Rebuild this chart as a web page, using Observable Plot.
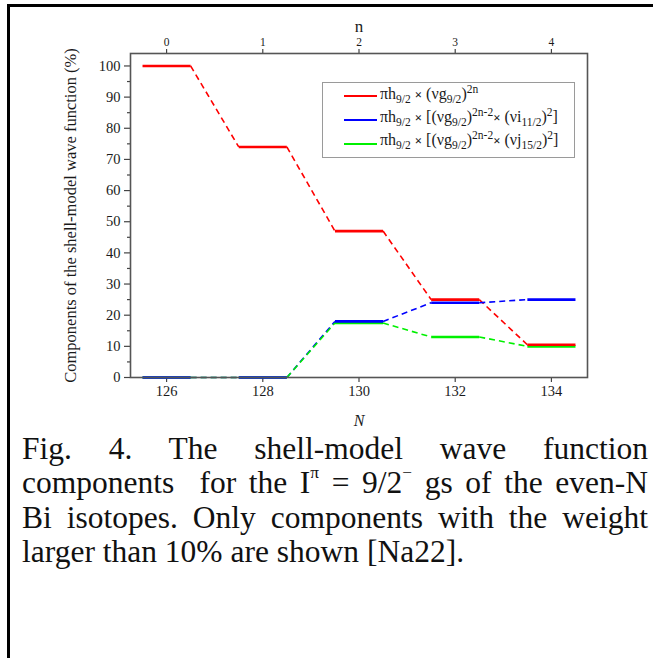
<!DOCTYPE html>
<html>
<head>
<meta charset="utf-8">
<script src="https://cdn.jsdelivr.net/npm/d3@7"></script>
<script src="https://cdn.jsdelivr.net/npm/@observablehq/plot@0.6"></script>
<style>
  html, body { margin: 0; padding: 0; background: #fff; }
  #wrap { position: relative; width: 653px; height: 658px; overflow: hidden; font-family: "Liberation Serif", "Times New Roman", serif; }
  #border { position: absolute; left: 7px; top: 4px; width: 660px; height: 700px; border-top: 3px solid #000; border-left: 3px solid #000; }
  #chart { position: absolute; left: 0; top: 0; }
  #chart svg, #chart svg text { font-family: "Liberation Serif", "Times New Roman", serif !important; }
  #legend { position: absolute; left: 322px; top: 82px; width: 253px; height: 76px; border: 1px solid #9a9a9a; box-sizing: border-box; background: #fff; }
  .lg-line { position: absolute; left: 344px; width: 33px; height: 2px; }
  .lg-text { position: absolute; left: 380px; font-family: "Liberation Serif", serif; font-size: 16px; line-height: 20px; color: #1a1a1a; white-space: nowrap; }
  .lg-text sub, .lg-text sup { font-size: 0.72em; line-height: 0; }
  .lg-text sub { vertical-align: -0.35em; }
  .lg-text sup { vertical-align: 0.55em; }
  .x { font-size: 0.8em; font-weight: bold; }
  #caption { position: absolute; left: 22px; top: 432px; width: 626px; font-size: 31.5px; line-height: 34.3px; color: #111; }
  #caption .ln { white-space: nowrap; text-align: justify; text-align-last: justify; }
  #caption .ln.last { text-align: left; text-align-last: left; }
  #caption sup { font-size: 0.55em; line-height: 0; vertical-align: 0.85em; }
</style>
</head>
<body>
<div id="wrap">
  <div id="border"></div>
  <div id="chart"></div>
  <div id="legend"></div>
  <div id="caption"></div>
</div>
<script>
// ---- data ----
const N = [126, 128, 130, 132, 134];
const nValues = [0, 1, 2, 3, 4];
const redValues = [100, 74, 47, 25, 10.5];     // πh9/2 × (νg9/2)^2n
const blueValues = [0, 0, 18, 24, 25];          // πh9/2 × [(νg9/2)^2n-2 × (νi11/2)^2]
const greenValues = [0, 0, 17.5, 13, 10];       // πh9/2 × [(νg9/2)^2n-2 × (νj15/2)^2]
const yTicks = [0, 10, 20, 30, 40, 50, 60, 70, 80, 90, 100];
const yMinorTicks = [5, 15, 25, 35, 45, 55, 65, 75, 85, 95];
const legendLabels = [
  "πh<sub>9/2</sub> <span class='x'>×</span> (νg<sub>9/2</sub>)<sup>2n</sup>",
  "πh<sub>9/2</sub> <span class='x'>×</span> [(νg<sub>9/2</sub>)<sup>2n-2</sup><span class='x'>×</span> (νi<sub>11/2</sub>)<sup>2</sup>]",
  "πh<sub>9/2</sub> <span class='x'>×</span> [(νg<sub>9/2</sub>)<sup>2n-2</sup><span class='x'>×</span> (νj<sub>15/2</sub>)<sup>2</sup>]"
];
const yLabel = "Components of the shell-model wave function (%)";
const topLabel = "n";
const bottomLabel = "N";
const captionLines = [
  "Fig. 4. The shell-model wave function",
  "components&nbsp; for the I<sup>π</sup> = 9/2<sup>−</sup> gs of the even-N",
  "Bi isotopes. Only components with the weight",
  "larger than 10% are shown [Na22]."
];

const series = [
  {key: "red", color: "#ff0000", values: redValues},
  {key: "blue", color: "#0000ff", values: blueValues},
  {key: "green", color: "#00f000", values: greenValues}
];

function solidOf(s) {
  return N.map((n, i) => ({x1: n - 0.5, x2: n + 0.5, y: s.values[i], color: s.color}));
}
function dashedOf(s) {
  return N.slice(0, -1).map((n, i) => ({x1: n + 0.5, x2: N[i + 1] - 0.5, y1: s.values[i], y2: s.values[i + 1], color: s.color}));
}
const [sR, sB, sG] = series;

const dashOpts = {x1: "x1", x2: "x2", y1: "y1", y2: "y2", stroke: "color", strokeWidth: 1.6, strokeDasharray: "6,4"};
const solidOpts = {x1: "x1", x2: "x2", y1: "y", y2: "y", stroke: "color", strokeWidth: 2.6};

const chart = Plot.plot({
  width: 653,
  height: 430,
  marginLeft: 130,
  marginTop: 53,
  marginRight: 66,
  marginBottom: 53,
  style: {background: "transparent", color: "#1a1a1a"},
  x: {domain: [125.25, 134.75], label: null},
  y: {domain: [0, 104], label: null},
  color: {type: "identity"},
  marks: [
    Plot.axisY({ticks: yTicks, tickSize: 6, tickPadding: 4, stroke: "#444", strokeWidth: 1.2, label: null}),
    Plot.axisY({ticks: yMinorTicks, tickSize: 3, tickFormat: () => "", stroke: "#444", strokeWidth: 1.2, label: null}),
    Plot.axisX({ticks: N, tickSize: 5, tickPadding: 3, stroke: "#444", strokeWidth: 1.2, label: null}),
    Plot.axisX({anchor: "top", ticks: N, tickFormat: d => nValues[N.indexOf(d)], tickSize: 5, tickPadding: 3, stroke: "#444", strokeWidth: 1.2, label: null}),
    Plot.link(dashedOf(sR), dashOpts),
    Plot.link(dashedOf(sB), dashOpts),
    Plot.link(dashedOf(sG), dashOpts),
    Plot.link(solidOf(sG), solidOpts),
    Plot.link(solidOf(sB), solidOpts),
    Plot.link(solidOf(sR), solidOpts),
    Plot.frame({stroke: "#555", strokeWidth: 1.6}),
    Plot.text([yLabel], {frameAnchor: "left", textAnchor: "middle", dx: -60, rotate: -90, fontSize: 16.5, fill: "#1a1a1a"}),
    Plot.text([topLabel], {frameAnchor: "top", textAnchor: "middle", dy: -34, fontSize: 17, fill: "#1a1a1a"}),
    Plot.text([bottomLabel], {frameAnchor: "bottom", textAnchor: "middle", dy: 48, fontSize: 16, fontStyle: "italic", fill: "#1a1a1a"})
  ]
});
document.getElementById("chart").appendChild(chart);

// tick label sizes: set directly on the tick label text elements
const titles = new Set([yLabel, topLabel, bottomLabel]);
const svgBox = chart.getBoundingClientRect();
chart.querySelectorAll("text").forEach(t => {
  const s = t.textContent.trim();
  if (titles.has(s) || s === "") return;
  const b = t.getBoundingClientRect();
  const cy = b.top + b.height / 2 - svgBox.top;
  if (cy < 53) t.style.fontSize = "11.5px";       // top (n) axis
  else t.style.fontSize = "14.5px";               // y axis and bottom (N) axis
});

// legend (HTML overlay inside the plot area)
const wrap = document.getElementById("wrap");
const lineTops = [95, 119, 143];
const textTops = [84, 107, 130];
series.forEach((s, i) => {
  const ln = document.createElement("div");
  ln.className = "lg-line";
  ln.style.top = lineTops[i] + "px";
  ln.style.background = s.color;
  wrap.appendChild(ln);
  const tx = document.createElement("div");
  tx.className = "lg-text";
  tx.style.top = textTops[i] + "px";
  tx.innerHTML = legendLabels[i];
  wrap.appendChild(tx);
});

// caption
const cap = document.getElementById("caption");
captionLines.forEach((t, i) => {
  const d = document.createElement("div");
  d.className = "ln" + (i === captionLines.length - 1 ? " last" : "");
  d.innerHTML = t;
  cap.appendChild(d);
});
</script>
</body>
</html>
